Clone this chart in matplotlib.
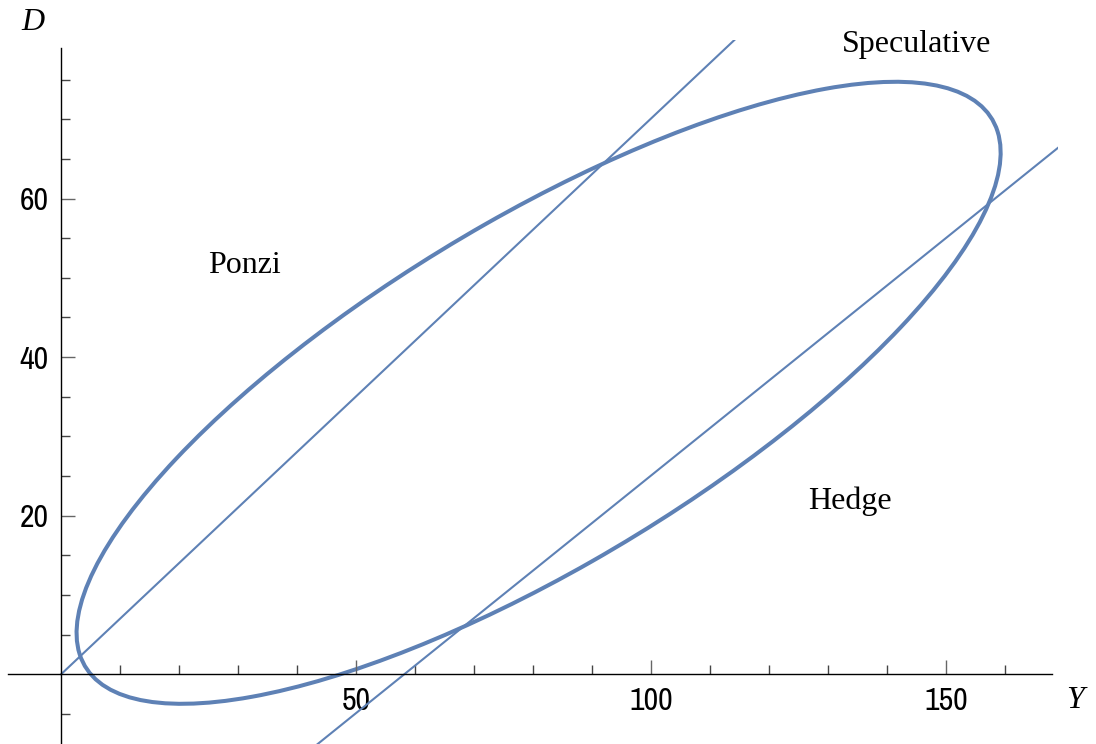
import matplotlib
matplotlib.use("Agg")
from matplotlib import pyplot as plt
from matplotlib import font_manager
from matplotlib.patches import Ellipse

# ellipse (cycle): centre, full width/height, tilt
ellipseCenter = (80.95, 35.5)
ellipseWidth = 169.0
ellipseHeight = 46.2
ellipseAngle = 22.96

# the two straight lines, by their end points
line1Y = [0, 115]
line1D = [0, 80.6]
line2Y = [43.5, 170]
line2D = [-8.8, 67.0]

regionNames = ["Ponzi", "Speculative", "Hedge"]
regionY = [31, 145, 133.7]
regionD = [51.6, 79.4, 21.8]

xMajor = [50, 100, 150]
xMinor = list(range(10, 170, 10))
yMajor = [20, 40, 60]
yMinor = list(range(-5, 80, 5))

blue = "#5E81B5"
textFont = ["Liberation Serif", "DejaVu Serif"]

# narrow sans for the numbers if one is installed
installed = set(f.name for f in font_manager.fontManager.ttflist)
narrow = [n for n in installed if "Narrow" in n or "Condensed" in n]
if narrow:
    tickFont = [sorted(narrow)[0], "Liberation Sans"]
    tickSize = 23
else:
    tickFont = ["Liberation Sans", "DejaVu Sans"]
    tickSize = 20

fig = plt.figure(figsize=(10.96, 7.44), dpi=100)
ax = fig.add_axes([8 / 1096, 0, (1058 - 8) / 1096, 1 - 40 / 744])
ax.set_xlim(-9, 169)
ax.set_ylim(-8.8, 80)

ax.add_patch(Ellipse(ellipseCenter, ellipseWidth, ellipseHeight, angle=ellipseAngle,
                     fill=False, edgecolor=blue, linewidth=2.9))
ax.plot(line1Y, line1D, color=blue, linewidth=1.5)
ax.plot(line2Y, line2D, color=blue, linewidth=1.5)

for name, x, y in zip(regionNames, regionY, regionD):
    ax.text(x, y, name, ha="center", va="center", fontsize=23, family=textFont, clip_on=False)

for s in ["top", "right"]:
    ax.spines[s].set_visible(False)
ax.spines["left"].set_position(("data", 0))
ax.spines["bottom"].set_position(("data", 0))
ax.spines["left"].set_bounds(-8.8, 79)
ax.spines["bottom"].set_bounds(-9, 168)
ax.spines["left"].set_linewidth(1.0)
ax.spines["bottom"].set_linewidth(1.0)

ax.set_xticks(xMajor)
ax.set_xticks([v for v in xMinor if v not in xMajor], minor=True)
ax.set_yticks(yMajor)
ax.set_yticks([v for v in yMinor if v not in yMajor and v != 0], minor=True)
ax.tick_params(which="major", direction="in", length=10, width=1.0, color="#666666", pad=9)
ax.tick_params(which="minor", direction="in", length=6.5, width=1.0, color="#444444")
ax.tick_params(axis="both", labelsize=tickSize)
for lab in ax.get_xticklabels() + ax.get_yticklabels():
    lab.set_family(tickFont)

# axis names sit outside the axes, placed in pixels (origin bottom left)
ax.text(1075, 744 - 701, "Y", transform=None, fontsize=23, style="italic", family=textFont,
        ha="center", va="center")
ax.text(33, 744 - 23, "D", transform=None, fontsize=23, style="italic", family=textFont,
        ha="center", va="center")

fig.savefig("out.png", dpi=100)
